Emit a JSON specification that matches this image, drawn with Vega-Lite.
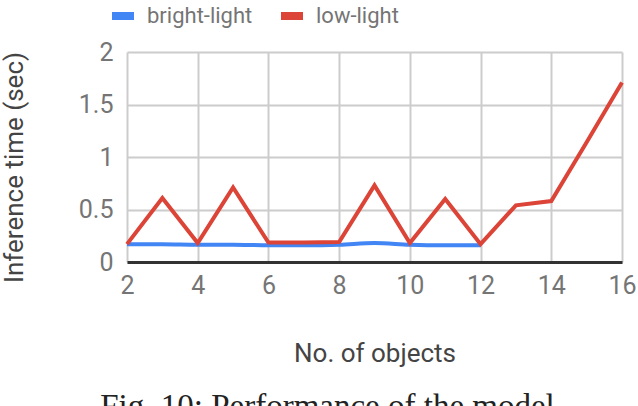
{
  "$schema": "https://vega.github.io/schema/vega-lite/v6.json",
  "autosize": "none",
  "width": 495,
  "height": 210,
  "padding": {"left": 127, "top": 52, "right": 16, "bottom": 144},
  "background": "white",
  "config": {
    "view": {"stroke": null},
    "font": "Roboto"
  },
  "title": {
    "text": "Fig. 10: Performance of the model",
    "orient": "bottom",
    "anchor": "middle",
    "dx": -47,
    "offset": 51,
    "baseline": "alphabetic",
    "font": "Liberation Serif",
    "fontSize": 33,
    "fontWeight": "normal",
    "color": "#222222"
  },
  "data": {
    "values": [
      {"objects": 2, "series": "bright-light", "time": 0.17},
      {"objects": 3, "series": "bright-light", "time": 0.17},
      {"objects": 4, "series": "bright-light", "time": 0.165},
      {"objects": 5, "series": "bright-light", "time": 0.165},
      {"objects": 6, "series": "bright-light", "time": 0.16},
      {"objects": 7, "series": "bright-light", "time": 0.16},
      {"objects": 8, "series": "bright-light", "time": 0.165},
      {"objects": 9, "series": "bright-light", "time": 0.18},
      {"objects": 10, "series": "bright-light", "time": 0.165},
      {"objects": 11, "series": "bright-light", "time": 0.16},
      {"objects": 12, "series": "bright-light", "time": 0.16},
      {"objects": 2, "series": "low-light", "time": 0.17},
      {"objects": 3, "series": "low-light", "time": 0.61},
      {"objects": 4, "series": "low-light", "time": 0.18},
      {"objects": 5, "series": "low-light", "time": 0.71},
      {"objects": 6, "series": "low-light", "time": 0.185},
      {"objects": 7, "series": "low-light", "time": 0.185},
      {"objects": 8, "series": "low-light", "time": 0.19},
      {"objects": 9, "series": "low-light", "time": 0.73},
      {"objects": 10, "series": "low-light", "time": 0.18},
      {"objects": 11, "series": "low-light", "time": 0.6},
      {"objects": 12, "series": "low-light", "time": 0.17},
      {"objects": 13, "series": "low-light", "time": 0.54},
      {"objects": 14, "series": "low-light", "time": 0.58},
      {"objects": 15, "series": "low-light", "time": 1.14},
      {"objects": 16, "series": "low-light", "time": 1.71}
    ]
  },
  "encoding": {
    "x": {
      "field": "objects",
      "type": "quantitative",
      "scale": {"domain": [2, 16], "nice": false, "zero": false},
      "axis": {
        "values": [2, 4, 6, 8, 10, 12, 14, 16],
        "title": "No. of objects",
        "titleFont": "Roboto",
        "titleFontSize": 26,
        "titleFontWeight": "normal",
        "titleColor": "#444444",
        "titleY": 91,
        "titleBaseline": "middle",
        "labelFont": "Roboto",
        "labelFontSize": 25,
        "labelColor": "#757575",
        "labelPadding": 11,
        "labelFlush": false,
        "labelOverlap": false,
        "ticks": false,
        "domain": true,
        "domainColor": "#333333",
        "domainWidth": 3,
        "gridColor": "#cccccc",
        "gridWidth": 2
      }
    },
    "y": {
      "field": "time",
      "type": "quantitative",
      "scale": {"domain": [0, 2], "nice": false},
      "axis": {
        "values": [0, 0.5, 1, 1.5, 2],
        "format": "~g",
        "title": "Inference time (sec)",
        "titleFont": "Roboto",
        "titleFontSize": 26,
        "titleFontWeight": "normal",
        "titleColor": "#444444",
        "titleX": -113,
        "titleY": 115,
        "titleAngle": -90,
        "titleAlign": "center",
        "titleBaseline": "middle",
        "labelFont": "Roboto",
        "labelFontSize": 25,
        "labelColor": "#757575",
        "labelPadding": 14,
        "labelFlush": false,
        "labelOverlap": false,
        "ticks": false,
        "domain": false,
        "gridColor": "#cccccc",
        "gridWidth": 2
      }
    },
    "color": {
      "field": "series",
      "type": "nominal",
      "scale": {"domain": ["bright-light", "low-light"], "range": ["#4285F4", "#DB4437"]},
      "legend": {
        "title": null,
        "orient": "none",
        "direction": "horizontal",
        "legendX": -19,
        "legendY": -51,
        "symbolType": "stroke",
        "symbolSize": 484,
        "symbolStrokeWidth": 8,
        "labelFont": "Roboto",
        "labelFontSize": 22,
        "labelColor": "#757575",
        "labelOffset": 9,
        "columnPadding": 12
      }
    }
  },
  "layer": [
    {
      "transform": [{"filter": "datum.series === 'bright-light'"}],
      "mark": {"type": "line", "strokeWidth": 4, "interpolate": "monotone", "clip": false}
    },
    {
      "transform": [{"filter": "datum.series === 'low-light'"}],
      "mark": {"type": "line", "strokeWidth": 4, "interpolate": "linear", "clip": false}
    }
  ]
}
